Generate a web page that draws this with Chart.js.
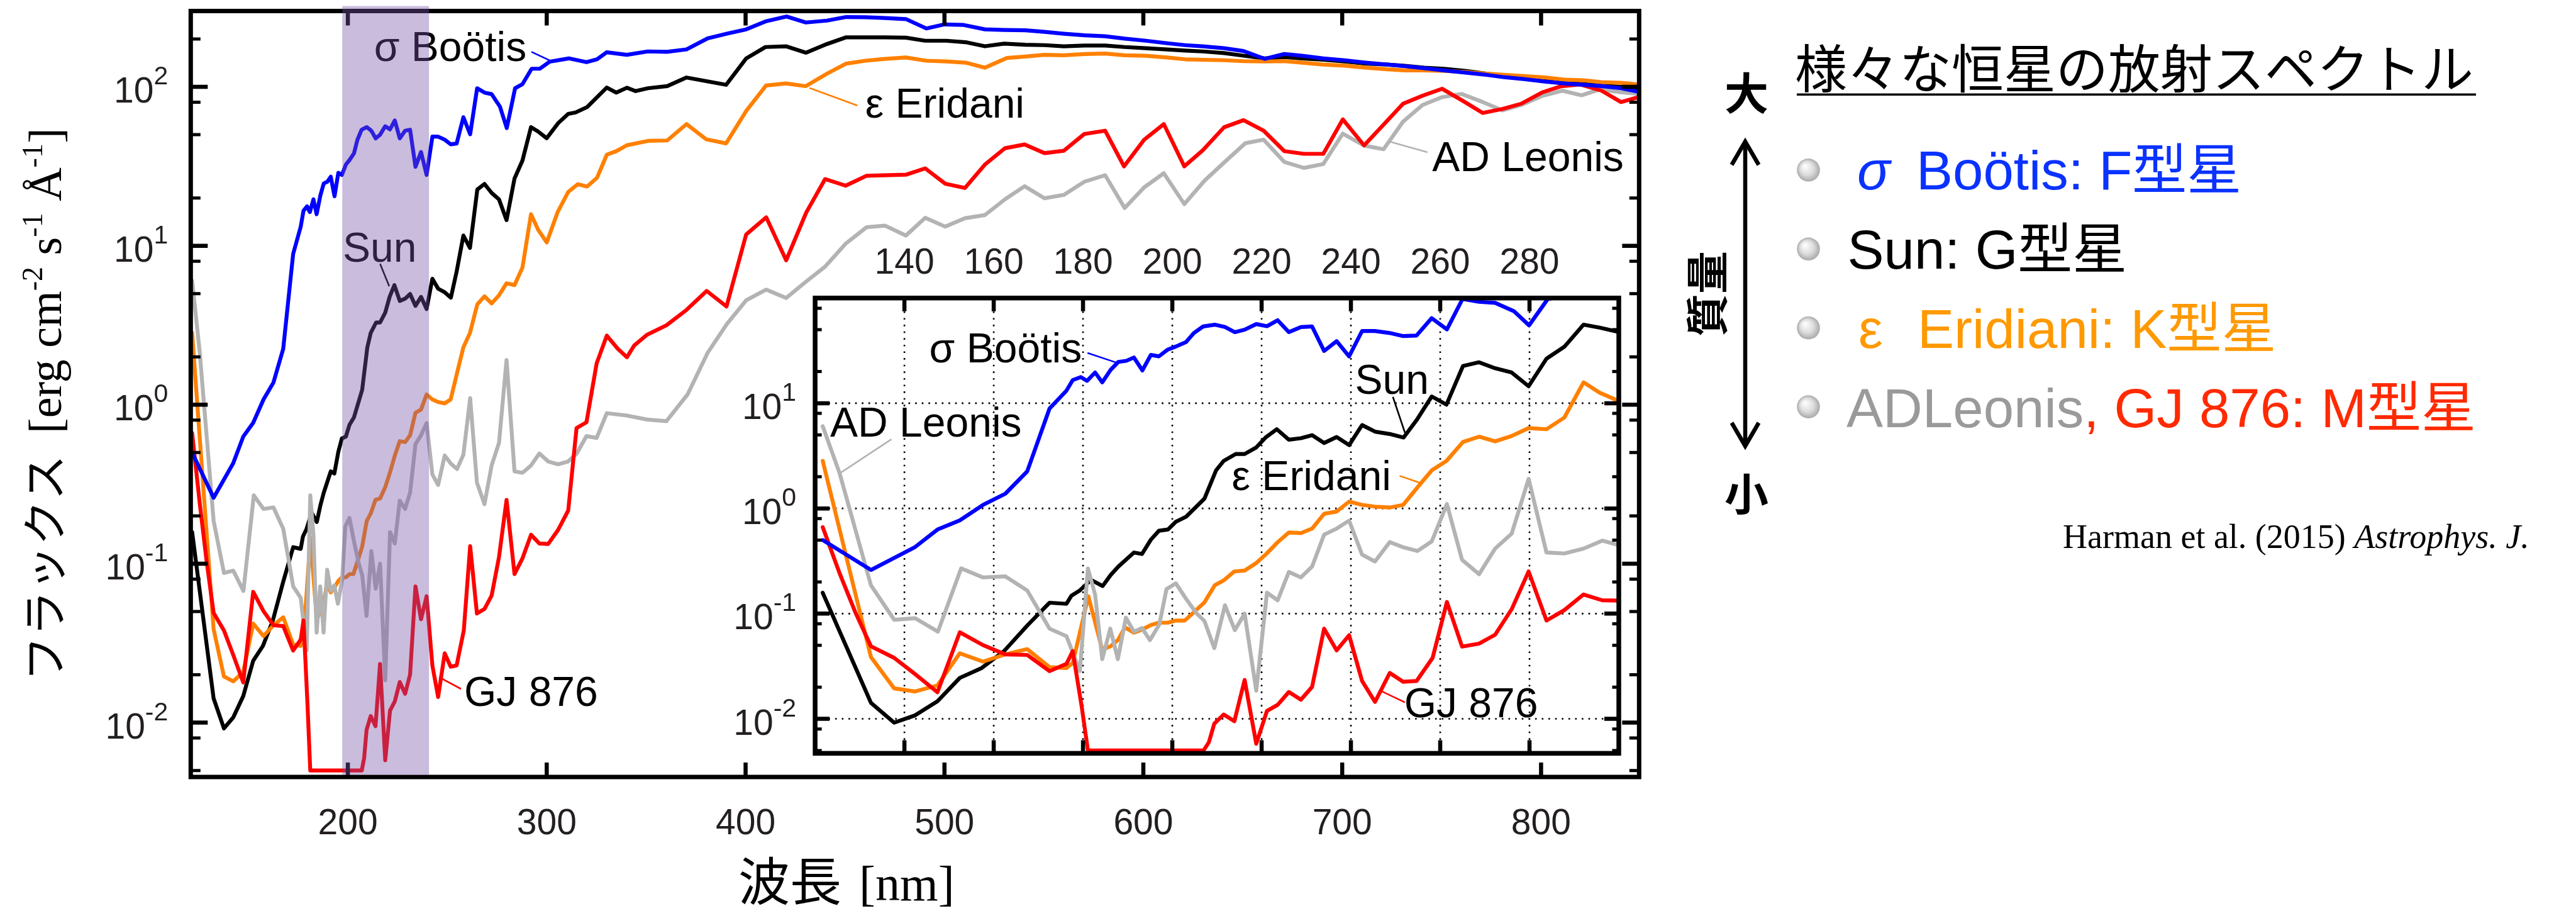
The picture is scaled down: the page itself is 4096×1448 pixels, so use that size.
<!DOCTYPE html>
<html lang="ja">
<head>
<meta charset="utf-8">
<title>様々な恒星の放射スペクトル</title>
<script src="https://cdn.jsdelivr.net/npm/chart.js@4.4.1/dist/chart.umd.min.js"></script>
<style>
  html, body { margin: 0; padding: 0; background: #fff; }
  body { width: 4096px; height: 1448px; position: relative; overflow: hidden; }
  canvas { position: absolute; }
  #mainChart { left: 0; top: 0; }
  #insetChart { left: 1100px; top: 380px; }
</style>
</head>
<body>
<canvas id="mainChart" width="4096" height="1448"></canvas>
<canvas id="insetChart" width="1500" height="870"></canvas>
<script>
const bootis = [
  [121.7, 0.50], [132.5, 0.26], [142.4, 0.43], [147.4, 0.63], [152.4, 0.77], [157.6, 1.08],
  [162.6, 1.38], [167.5, 2.25], [172.5, 8.9], [176.3, 13.2], [177.7, 16.6], [179.5, 17.7],
  [180.9, 16.3], [182.7, 19.6], [184.3, 15.8], [186.2, 20.8], [187.9, 24.7], [189.7, 25.3],
  [191.4, 27.2], [193.3, 20.5], [195.2, 28.8], [197.0, 27.9], [199.0, 32.4], [200.8, 34.6],
  [203.1, 38.2], [204.8, 46.4], [206.9, 53.7], [209.5, 55.8], [211.8, 53.0], [214.0, 47.4],
  [216.2, 50.0], [218.8, 56.5], [221.2, 54.0], [223.6, 61.5], [226.1, 47.4], [228.8, 53.0],
  [231.3, 53.7], [234.0, 31.4], [236.8, 38.9], [239.6, 27.9], [242.5, 48.6], [245.4, 48.6],
  [248.7, 46.5], [251.7, 43.5], [254.7, 44.0], [258.1, 64.4], [261.5, 50.3], [265.0, 98],
  [268.7, 92], [272.3, 90], [276.5, 75], [279.9, 55], [284.1, 98], [287.8, 104],
  [292.4, 130], [296.5, 130], [301.5, 144], [311.1, 151], [320.0, 143], [325.3, 149],
  [330.2, 165], [340.3, 159], [350.8, 167], [360.5, 166], [370.3, 172], [380.9, 202],
  [390.6, 216], [400.3, 230], [410.0, 258], [420.6, 277], [430.3, 254], [440.9, 261],
  [450.6, 275], [460.3, 274], [470.0, 271], [480.6, 267], [490.9, 233], [500.0, 247],
  [509.7, 245], [520.3, 230], [530.0, 228], [540.6, 227], [550.3, 222], [560.0, 216],
  [570.6, 211], [580.8, 208], [590.6, 201], [601.3, 195], [612.0, 188], [621.0, 183],
  [629.9, 180], [640.6, 175], [650.4, 168], [661.1, 150], [670.9, 161], [679.8, 157],
  [690.5, 151], [701.2, 147], [711.9, 142], [722.6, 138], [731.5, 135], [741.3, 131],
  [751.1, 127], [761.8, 123], [772.5, 119], [781.4, 115], [791.2, 112], [801.9, 108],
  [811.7, 105], [821.5, 103], [830.4, 101], [840.2, 98], [849.1, 93]
];

const sun = [
  [121.7, 0.158], [132.5, 0.0142], [137.7, 0.0092], [142.4, 0.0108], [147.4, 0.0147], [152.4, 0.0245],
  [157.3, 0.0304], [162.3, 0.044], [167.5, 0.077], [172.5, 0.127], [176.3, 0.124], [177.4, 0.148],
  [179.2, 0.165], [181.8, 0.209], [184.4, 0.183], [186.2, 0.233], [187.9, 0.28], [191.4, 0.381],
  [193.2, 0.369], [195.2, 0.505], [197.0, 0.614], [199.0, 0.63], [200.8, 0.747], [203.1, 0.834],
  [207.2, 1.24], [209.8, 2.3], [211.5, 2.83], [214.2, 3.29], [216.2, 3.29], [218.8, 3.8],
  [221.0, 4.77], [223.4, 5.66], [226.1, 4.5], [228.8, 4.65], [231.3, 4.97], [234.0, 4.19],
  [236.8, 4.77], [239.6, 4.0], [242.5, 6.2], [245.4, 5.37], [248.7, 5.1], [251.8, 4.72],
  [254.7, 6.89], [258.1, 11.6], [261.4, 9.7], [265.1, 22.6], [268.7, 24.5], [272.3, 21.5],
  [276.0, 19.6], [279.8, 14.5], [283.8, 26.5], [287.8, 34.4], [292.1, 55.8], [295.7, 52.3],
  [300.0, 47.5], [305.9, 59.4], [310.8, 67.6], [314.5, 69], [320.3, 74.6], [330.2, 99],
  [335.0, 92], [340.3, 98.7], [344.7, 94], [350.9, 98], [360.6, 101], [370.3, 114.5],
  [390.2, 103], [400.3, 151], [410.0, 178], [420.3, 180], [430.3, 164], [440.9, 186],
  [450.6, 205], [470.0, 205], [480.6, 204], [490.3, 195], [500.9, 195], [510.6, 191],
  [520.3, 180], [530.0, 187], [540.6, 184], [550.3, 183], [560.0, 180], [570.6, 182],
  [580.8, 182], [590.6, 178], [601.3, 175], [612.0, 172], [621.0, 169], [629.9, 167],
  [640.6, 163], [650.4, 157], [661.1, 151], [670.9, 154], [679.8, 151], [690.5, 148],
  [701.2, 144.5], [712.0, 140], [722.6, 138], [731.5, 135.5], [741.3, 132], [751.1, 130],
  [761.8, 126], [772.5, 121], [781.4, 117.5], [791.2, 114], [802.0, 110], [811.7, 107],
  [821.5, 104], [830.4, 102], [840.2, 100], [849.1, 98]
];

const eridani = [
  [121.7, 2.83], [132.5, 0.0387], [137.7, 0.0195], [142.4, 0.0182], [147.4, 0.0208], [152.4, 0.042],
  [157.6, 0.035], [162.6, 0.041], [167.5, 0.046], [172.5, 0.031], [176.3, 0.0304], [177.7, 0.034],
  [181.2, 0.146], [184.3, 0.0455], [186.2, 0.049], [187.8, 0.056], [189.4, 0.074], [191.4, 0.066],
  [193.2, 0.0705], [195.2, 0.078], [197.0, 0.082], [199.0, 0.082], [200.8, 0.086], [202.8, 0.086],
  [204.8, 0.103], [207.2, 0.128], [209.5, 0.186], [211.5, 0.207], [213.9, 0.252], [216.2, 0.257],
  [218.8, 0.303], [221.0, 0.368], [223.6, 0.478], [226.1, 0.59], [228.8, 0.582], [231.3, 0.643],
  [234.0, 0.89], [236.8, 0.933], [239.6, 1.16], [242.5, 1.08], [245.4, 1.04], [248.7, 1.02],
  [251.7, 1.08], [255.3, 1.66], [258.1, 2.3], [261.4, 2.83], [265.1, 4.28], [268.7, 4.81],
  [272.3, 4.34], [276.0, 4.88], [279.8, 5.81], [283.8, 5.66], [287.8, 7.3], [292.1, 15.8],
  [295.7, 12.6], [300.0, 10.5], [305.5, 16.3], [310.8, 21.8], [315.6, 24.4], [320.3, 23.6],
  [325.3, 26.8], [330.2, 37.4], [335.0, 39.4], [340.3, 42.9], [350.9, 45.7], [360.6, 46],
  [370.3, 58.3], [380.3, 46.7], [390.2, 44.1], [400.3, 70.5], [410.3, 102], [420.3, 105],
  [430.3, 101], [440.9, 121], [450.6, 140], [460.3, 146], [470.0, 150], [480.6, 153],
  [490.9, 146], [500.9, 144.5], [510.6, 142], [520.3, 132], [531.4, 152], [540.6, 155],
  [550.3, 159], [560.0, 158], [570.6, 161], [580.8, 162], [590.6, 158], [601.3, 157],
  [612.0, 153], [621.0, 149], [640.6, 147], [650.4, 145], [661.1, 144.5], [670.9, 145],
  [679.8, 142], [690.5, 138], [701.2, 136], [712.0, 132], [722.6, 129], [731.5, 127],
  [741.3, 127], [751.1, 126], [761.8, 124], [772.5, 121], [781.4, 119], [791.2, 117],
  [802.0, 114.5], [811.7, 111], [821.5, 110], [830.4, 107], [840.2, 106], [849.1, 103.5]
];

const gj876 = [
  [121.7, 0.664], [125.5, 0.241], [129.0, 0.103], [132.5, 0.049], [137.7, 0.038], [142.4, 0.0266],
  [147.4, 0.0179], [152.4, 0.0665], [157.6, 0.0502], [162.6, 0.041], [167.5, 0.0405], [172.5, 0.0284],
  [176.3, 0.0333], [177.7, 0.044], [179.7, 0.0131], [181.1, 0.005], [207.0, 0.005], [208.2, 0.006],
  [209.4, 0.009], [211.5, 0.011], [213.9, 0.0095], [216.2, 0.0234], [218.8, 0.0058], [221.2, 0.0119],
  [223.6, 0.0136], [226.1, 0.018], [228.8, 0.0152], [231.3, 0.0201], [234.0, 0.072], [236.8, 0.0447],
  [239.6, 0.0624], [242.5, 0.0229], [245.4, 0.0145], [248.7, 0.0273], [251.7, 0.0225], [254.7, 0.0229],
  [258.3, 0.038], [261.5, 0.129], [264.9, 0.0486], [268.7, 0.0519], [272.3, 0.063], [276.0, 0.11],
  [279.8, 0.252], [283.8, 0.086], [287.8, 0.108], [292.1, 0.152], [296.3, 0.134], [300.7, 0.133],
  [305.7, 0.163], [310.8, 0.216], [315.0, 0.713], [320.0, 0.776], [325.1, 1.82], [330.2, 2.72],
  [335.7, 2.25], [340.3, 1.99], [344.0, 2.36], [350.5, 2.76], [360.2, 3.16], [370.3, 3.95],
  [380.4, 5.2], [390.4, 4.15], [400.3, 11.8], [410.4, 15.1], [420.4, 8.1], [430.5, 16.2],
  [440.0, 26.3], [450.3, 23.9], [460.9, 27.6], [480.6, 28], [490.3, 30.7], [500.4, 24.6],
  [510.3, 23.1], [520.3, 32.4], [530.4, 41.1], [540.3, 43.4], [550.3, 38.3], [560.0, 39.6],
  [570.3, 50.5], [580.8, 53], [590.3, 31.6], [600.4, 46.5], [610.3, 58.3], [620.6, 31.6],
  [629.9, 39.9], [640.6, 55.7], [650.4, 61.7], [660.5, 53], [670.9, 39.4], [680.7, 37.9],
  [690.5, 37.9], [700.3, 62.4], [711.0, 42.8], [720.8, 57.8], [730.6, 78.3], [740.4, 87.9],
  [750.2, 97.3], [760.9, 81.3], [770.7, 68.5], [780.5, 72.6], [790.0, 78.3], [800.8, 92.5],
  [809.9, 100.7], [819.7, 103.6], [830.4, 94.6], [840.2, 80.2], [848.8, 86]
];

const adLeonis = [
  [121.7, 6.04], [125.5, 2.15], [132.5, 0.186], [137.7, 0.0875], [142.4, 0.0904], [147.5, 0.0674],
  [152.7, 0.269], [157.6, 0.221], [162.6, 0.226], [167.5, 0.166], [172.5, 0.072], [176.3, 0.061],
  [179.3, 0.0285], [181.1, 0.269], [182.7, 0.152], [184.3, 0.0369], [186.1, 0.072], [187.8, 0.0369],
  [189.6, 0.0916], [191.4, 0.0674], [193.2, 0.073], [195.0, 0.056], [197.1, 0.079], [198.7, 0.171],
  [200.8, 0.194], [203.1, 0.138], [205.4, 0.101], [207.2, 0.085], [209.4, 0.047], [211.8, 0.12],
  [214.0, 0.0697], [216.2, 0.1], [218.8, 0.0185], [221.2, 0.158], [223.6, 0.134], [226.1, 0.249],
  [228.8, 0.221], [231.3, 0.28], [234.0, 0.564], [236.8, 0.643], [239.6, 0.766], [242.5, 0.364],
  [245.4, 0.313], [248.7, 0.479], [251.8, 0.426], [254.9, 0.394], [258.1, 0.485], [261.5, 1.1],
  [264.9, 0.324], [268.7, 0.237], [272.3, 0.415], [276.0, 0.575], [279.8, 1.91], [283.8, 0.381],
  [287.8, 0.373], [292.1, 0.415], [296.3, 0.494], [300.7, 0.44], [305.7, 0.422], [310.8, 0.44],
  [315.0, 0.492], [320.0, 0.635], [325.1, 0.618], [330.2, 0.885], [340.3, 0.855], [350.5, 0.807],
  [360.2, 0.789], [370.8, 1.16], [380.9, 2.12], [390.6, 3.22], [400.3, 4.54], [410.4, 5.3],
  [420.4, 4.7], [430.0, 5.9], [440.0, 7.4], [450.3, 10.3], [460.9, 13.1], [470.0, 13.4],
  [480.6, 11.6], [490.3, 15], [500.4, 13.2], [510.3, 14.9], [520.3, 15.6], [530.4, 19.6],
  [540.3, 23.7], [550.3, 19.9], [560.0, 20.9], [570.3, 25.3], [580.8, 27.8], [590.6, 17.3],
  [600.4, 23.3], [610.3, 28.6], [620.6, 18.3], [630.8, 25.7], [640.6, 33.4], [651.3, 44.2],
  [660.5, 46.5], [670.9, 33.7], [680.7, 30.9], [690.5, 32.7], [700.3, 50.8], [711.0, 42.7],
  [720.8, 40.5], [730.6, 60.4], [740.4, 76.9], [750.2, 86.1], [760.0, 90.3], [770.7, 80.2],
  [780.5, 71.1], [790.0, 76.9], [800.8, 87.9], [810.6, 94.6], [820.4, 88.5], [829.5, 96.4],
  [840.2, 92.5], [848.8, 90.3]
];

const mainXTicks = [200, 300, 400, 500, 600, 700, 800];
const insetXTicks = [140, 160, 180, 200, 220, 240, 260, 280];
const minorSteps = [2, 5, 8];
const uvBand = [197.2, 240.8];

const SANS = '"Liberation Sans", Arial, sans-serif';
const SERIF = '"Liberation Serif", "Times New Roman", serif';
const CJK = '"Noto Sans CJK JP", sans-serif';

// drawn top to bottom: first one ends up on top
const stars = [
  { name: 'σ Boötis', points: bootis, color: '#0000ff' },
  { name: 'GJ 876', points: gj876, color: '#ff0000' },
  { name: 'AD Leonis', points: adLeonis, color: '#b3b3b3' },
  { name: 'ε Eridani', points: eridani, color: '#ff8000' },
  { name: 'Sun', points: sun, color: '#000000' }
];

// callouts: text anchor (left, baseline) and leader line, in data units
const mainCallouts = [
  { star: 'σ Boötis', at: [213.8, 145], line: [[292.3, 166], [301.4, 146.8]] },
  { star: 'Sun', at: [198.1, 7.96], line: [[216.2, 7.7], [220.8, 5.57]] },
  { star: 'ε Eridani', at: [460.8, 63.8], line: [[432.1, 98.4], [456.2, 76.3]] },
  { star: 'AD Leonis', at: [745.9, 29.5], line: [[724.3, 45.1], [742.9, 38.8]] },
  { star: 'GJ 876', at: [259.1, 0.0127], line: [[245.9, 0.0193], [256.9, 0.0163]] }
];
const insetCallouts = [
  { star: 'σ Boötis', at: [145.85, 24.4], line: [[181, 30.1], [187.4, 24.4]] },
  { star: 'AD Leonis', at: [123.66, 4.83], line: [[137.1, 4.55], [125.4, 2.14]] },
  { star: 'Sun', at: [241.2, 12.3], line: [[249.4, 11.5], [252.1, 5.25]] },
  { star: 'ε Eridani', at: [213.6, 1.49], line: [[250.9, 2.04], [255.3, 1.76]] },
  { star: 'GJ 876', at: [252.2, 0.01035], line: [[247, 0.0182], [252.1, 0.01435]] }
];

function buildDatasets() {
  return stars.map(s => ({
    label: s.name,
    data: s.points.map(p => ({ x: p[0], y: p[1] })),
    borderColor: s.color,
    borderWidth: 6.2,
    pointRadius: 0,
    tension: 0,
    fill: false,
    borderJoinStyle: 'round',
    borderCapStyle: 'round',
    clip: 0
  }));
}

function decadesIn(y) {
  const out = [];
  for (let e = Math.ceil(Math.log10(y.min) - 1e-9); e <= Math.floor(Math.log10(y.max) + 1e-9); e++) out.push(Math.pow(10, e));
  return out;
}
function minorsIn(y) {
  const out = [];
  for (let e = Math.floor(Math.log10(y.min)); e <= Math.floor(Math.log10(y.max)); e++) {
    minorSteps.forEach(m => { const v = m * Math.pow(10, e); if (v >= y.min && v <= y.max) out.push(v); });
  }
  return out;
}

function drawGrid(chart, o) {
  const { ctx, chartArea: a, scales: { x, y } } = chart;
  ctx.save();
  ctx.strokeStyle = '#000';
  ctx.lineWidth = 2.6;
  ctx.setLineDash([2.6, 8]);
  ctx.beginPath();
  o.xTicks.forEach(v => { const px = x.getPixelForValue(v); ctx.moveTo(px, a.top); ctx.lineTo(px, a.bottom); });
  decadesIn(y).forEach(v => { const py = y.getPixelForValue(v); ctx.moveTo(a.left, py); ctx.lineTo(a.right, py); });
  ctx.stroke();
  ctx.restore();
}

function drawCallouts(chart, list) {
  const { ctx, scales: { x, y } } = chart;
  ctx.save();
  ctx.font = `66px ${SANS}`;
  ctx.textAlign = 'left';
  ctx.textBaseline = 'alphabetic';
  list.forEach(c => {
    const star = stars.find(s => s.name === c.star);
    ctx.strokeStyle = star.color;
    ctx.lineWidth = 2.6;
    ctx.beginPath();
    ctx.moveTo(x.getPixelForValue(c.line[0][0]), y.getPixelForValue(c.line[0][1]));
    ctx.lineTo(x.getPixelForValue(c.line[1][0]), y.getPixelForValue(c.line[1][1]));
    ctx.stroke();
    ctx.fillStyle = '#000';
    ctx.fillText(c.star, x.getPixelForValue(c.at[0]) - 2, y.getPixelForValue(c.at[1]));
  });
  ctx.restore();
}

function drawAxes(chart, o) {
  const { ctx, chartArea: a, scales: { x, y } } = chart;
  const seg = (x1, y1, x2, y2) => { ctx.moveTo(x1, y1); ctx.lineTo(x2, y2); };
  ctx.save();
  ctx.strokeStyle = '#000';
  ctx.lineCap = 'butt';
  ctx.lineWidth = o.tickWidth;
  ctx.beginPath();
  o.xTicks.forEach(v => {
    const px = x.getPixelForValue(v);
    seg(px, a.bottom, px, a.bottom - o.xTickLen);
    seg(px, a.top, px, a.top + o.xTickLen);
  });
  decadesIn(y).forEach(v => {
    const py = y.getPixelForValue(v);
    seg(a.left, py, a.left + o.yTickLen, py);
    seg(a.right, py, a.right - o.yTickLen, py);
  });
  ctx.stroke();
  ctx.lineWidth = o.minorWidth;
  ctx.beginPath();
  minorsIn(y).forEach(v => {
    const py = y.getPixelForValue(v);
    seg(a.left, py, a.left + o.minorLen, py);
    seg(a.right, py, a.right - o.minorLen, py);
  });
  ctx.stroke();
  ctx.lineWidth = o.frameWidth;
  ctx.lineJoin = 'miter';
  ctx.strokeRect(a.left, a.top, a.right - a.left, a.bottom - a.top);
  ctx.restore();
}

function drawTickLabels(chart, o) {
  const { ctx, chartArea: a, scales: { x, y } } = chart;
  ctx.save();
  ctx.fillStyle = '#231f20';
  ctx.textBaseline = 'alphabetic';
  ctx.font = `57px ${SANS}`;
  ctx.textAlign = 'center';
  const ly = o.xLabelsTop ? a.top - 38.5 : a.bottom + 90.5;
  o.xTicks.forEach(v => ctx.fillText(String(v), x.getPixelForValue(v), ly));
  ctx.textAlign = 'right';
  decadesIn(y).filter(v => o.labelTopDecade || v < y.max * 0.999).forEach(v => {
    const exp = String(Math.round(Math.log10(v)));
    const base = y.getPixelForValue(v) + 25;
    const right = a.left - o.yLabelGap;
    ctx.font = `41px ${SANS}`;
    const sw = ctx.measureText(exp).width;
    ctx.fillText(exp, right, base - 29);
    ctx.font = `57px ${SANS}`;
    ctx.fillText('10', right - sw, base);
  });
  ctx.restore();
}

function drawBand(chart, o) {
  const { ctx, chartArea: a, scales: { x } } = chart;
  const x0 = x.getPixelForValue(uvBand[0]);
  const x1 = x.getPixelForValue(uvBand[1]);
  ctx.save();
  ctx.fillStyle = 'rgba(118, 82, 164, 0.39)';
  ctx.fillRect(x0, a.top - 8, x1 - x0, a.bottom - a.top + 8 - o.frameWidth / 2);
  ctx.restore();
}

// text made of runs with different fonts, laid out left to right from (x, y)
function drawRuns(ctx, x, y, runs) {
  let cx = x;
  runs.forEach(r => {
    ctx.font = r.font;
    ctx.fillStyle = r.color || '#000';
    ctx.fillText(r.text, cx, y - (r.rise || 0));
    cx += ctx.measureText(r.text).width + (r.gap || 0);
  });
}

function pearl(ctx, cx, cy, r) {
  const g = ctx.createRadialGradient(cx - r * 0.3, cy - r * 0.35, r * 0.1, cx, cy, r);
  g.addColorStop(0, '#fbfbfb');
  g.addColorStop(0.55, '#dcdcdc');
  g.addColorStop(1, '#a9a9a9');
  ctx.fillStyle = g;
  ctx.beginPath();
  ctx.arc(cx, cy, r, 0, Math.PI * 2);
  ctx.fill();
}

function drawTitlesAndKey(chart) {
  const ctx = chart.ctx;
  ctx.save();
  ctx.textAlign = 'left';
  ctx.textBaseline = 'alphabetic';

  // x axis title
  drawRuns(ctx, 1174, 1431, [
    { text: '波長', font: `82px ${CJK}`, gap: 28 },
    { text: '[nm]', font: `78px ${SERIF}` }
  ]);

  // y axis title, rotated
  ctx.save();
  ctx.translate(96.5, 1083);
  ctx.rotate(-Math.PI / 2);
  drawRuns(ctx, 0, 0, [
    { text: 'フラックス', font: `72px ${CJK}`, gap: 34 },
    { text: '[erg cm', font: `74px ${SERIF}` },
    { text: '-2', font: `46px ${SERIF}`, rise: 30 },
    { text: ' s', font: `74px ${SERIF}` },
    { text: '-1', font: `46px ${SERIF}`, rise: 30 },
    { text: ' Å', font: `74px ${SERIF}` },
    { text: '-1', font: `46px ${SERIF}`, rise: 30 },
    { text: ']', font: `74px ${SERIF}` }
  ]);
  ctx.restore();

  // panel title
  ctx.fillStyle = '#000';
  ctx.font = `83px ${CJK}`;
  ctx.fillText('様々な恒星の放射スペクトル', 2854, 140);
  ctx.fillRect(2857, 148.5, 1080, 3.5);

  // mass arrow
  ctx.font = `bold 70px ${CJK}`;
  ctx.textAlign = 'center';
  ctx.fillText('大', 2777, 175);
  ctx.fillText('小', 2777, 812);
  ctx.save();
  ctx.translate(2714, 467);
  ctx.rotate(-Math.PI / 2);
  ctx.font = `bold 68px ${CJK}`;
  ctx.fillText('質量', 0, 26);
  ctx.restore();
  ctx.strokeStyle = '#000';
  ctx.lineWidth = 6.5;
  ctx.lineJoin = 'miter';
  ctx.beginPath();
  ctx.moveTo(2775, 228); ctx.lineTo(2775, 706);
  ctx.moveTo(2753.5, 262); ctx.lineTo(2775, 225); ctx.lineTo(2796.5, 262);
  ctx.moveTo(2753.5, 672); ctx.lineTo(2775, 709); ctx.lineTo(2796.5, 672);
  ctx.stroke();

  // key
  ctx.textAlign = 'left';
  const keyFont = `87px ${SANS}, ${CJK}`;
  [270.3, 395.8, 521.2, 646.6].forEach(cy => pearl(ctx, 2875.5, cy, 18.3));
  drawRuns(ctx, 2953, 301, [{ text: 'σ', font: `italic 87px ${SANS}`, color: '#0a32ff' }]);
  drawRuns(ctx, 3047, 301, [{ text: 'Boötis: F型星', font: keyFont, color: '#0a32ff' }]);
  drawRuns(ctx, 2937.5, 426.5, [{ text: 'Sun: G型星', font: keyFont, color: '#000' }]);
  drawRuns(ctx, 2955, 553, [{ text: 'ε', font: keyFont, color: '#ff9900' }]);
  drawRuns(ctx, 3049, 553, [{ text: 'Eridiani: K型星', font: keyFont, color: '#ff9900' }]);
  drawRuns(ctx, 2936, 678.6, [
    { text: 'ADLeonis', font: keyFont, color: '#9a9a9a' },
    { text: ', GJ 876: M型星', font: keyFont, color: '#ff2a00' }
  ]);

  // source
  drawRuns(ctx, 3280, 870.6, [
    { text: 'Harman et al. (2015) ', font: `54px ${SERIF}` },
    { text: 'Astrophys. J.', font: `italic 54px ${SERIF}` }
  ]);
  ctx.restore();
}

function decorPlugin(o) {
  return {
    id: 'decor',
    beforeDraw(chart) {
      if (!o.whiteBox) return;
      const { ctx, chartArea: a } = chart;
      ctx.save();
      ctx.fillStyle = '#fff';
      ctx.fillRect(a.left - 4, a.top - 4, a.right - a.left + 8, a.bottom - a.top + 8);
      ctx.restore();
    },
    beforeDatasetsDraw(chart) { if (o.grid) drawGrid(chart, o); },
    afterDatasetsDraw(chart) {
      drawCallouts(chart, o.callouts);
      drawAxes(chart, o);
      if (o.band) drawBand(chart, o);
      drawTickLabels(chart, o);
      if (o.titles) drawTitlesAndKey(chart);
    }
  };
}

function makeChart(id, xr, yr, padding, o) {
  return new Chart(document.getElementById(id), {
    type: 'line',
    data: { datasets: buildDatasets() },
    options: {
      responsive: false,
      animation: false,
      devicePixelRatio: 1,
      events: [],
      layout: { padding: padding },
      plugins: { legend: { display: false }, tooltip: { enabled: false } },
      scales: {
        x: { type: 'linear', min: xr[0], max: xr[1], display: false },
        y: { type: 'logarithmic', min: yr[0], max: yr[1], display: false }
      }
    },
    plugins: [decorPlugin(o)]
  });
}

makeChart('mainChart', [121, 849.3], [0.00455, 300],
  { left: 303.3, top: 17.5, right: 1489.7, bottom: 213 },
  { xTicks: mainXTicks, callouts: mainCallouts, band: true, titles: true, labelTopDecade: true,
    xTickLen: 23, yTickLen: 27, minorLen: 15.5, tickWidth: 6.5, minorWidth: 5,
    frameWidth: 7, yLabelGap: 36, xLabelsTop: false });

makeChart('insetChart', [120, 300], [0.0047, 100],
  { left: 196.1, top: 93.7, right: 26, bottom: 52.6 },
  { xTicks: insetXTicks, callouts: insetCallouts, whiteBox: true, grid: true, labelTopDecade: false,
    xTickLen: 21, yTickLen: 23, minorLen: 10.5, tickWidth: 6.5, minorWidth: 5,
    frameWidth: 7.5, yLabelGap: 30, xLabelsTop: true });
</script>
</body>
</html>
